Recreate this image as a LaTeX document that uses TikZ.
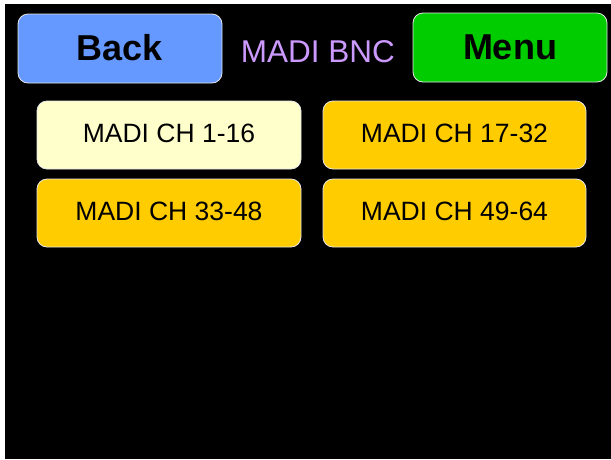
\documentclass[tikz,border=0pt]{standalone}
\usepackage{fontspec}
\setmainfont{Liberation Sans}
\definecolor{backblue}{HTML}{6699FF}
\definecolor{menugreen}{HTML}{00CC00}
\definecolor{chyellow}{HTML}{FFCC00}
\definecolor{chpale}{HTML}{FFFFCC}
\definecolor{titlelav}{HTML}{CC99FF}
\definecolor{edgegray}{HTML}{E6E6E6}
\tikzset{
  btn/.style={draw=edgegray, line width=0.8pt, rounded corners=10pt, inner sep=0pt, text=black},
  navbtn/.style={btn, font=\fontsize{36}{40}\selectfont\bfseries, minimum height=69pt, text height=26pt, text depth=2.5pt},
  chbtn/.style={btn, font=\fontsize{26.5}{30}\selectfont, minimum width=264pt, minimum height=68pt, text height=19pt, text depth=4pt},
}
\begin{document}
\begin{tikzpicture}[x=1pt, y=-1pt]
\useasboundingbox (0,0) rectangle (611,459);
\fill[white] (0,0) rectangle (611,459);
\fill[black] (5,4) rectangle (611,459);
\node[navbtn, fill=backblue, minimum width=204pt] (back) at (120,48.5) {Back};
\node[navbtn, fill=menugreen, minimum width=194pt] (menu) at (510,47.5) {Menu};
\node[anchor=base, text=titlelav, font=\fontsize{31.5}{34}\selectfont, inner sep=0pt] (title) at (318,62) {MADI BNC};
\node[chbtn, fill=chpale] (ch1) at (169,135) {MADI CH 1-16};
\node[chbtn, fill=chyellow, minimum width=263pt] (ch17) at (454.5,135) {MADI CH 17-32};
\node[chbtn, fill=chyellow] (ch33) at (169,213) {MADI CH 33-48};
\node[chbtn, fill=chyellow, minimum width=263pt] (ch49) at (454.5,213) {MADI CH 49-64};
\end{tikzpicture}
\end{document}
